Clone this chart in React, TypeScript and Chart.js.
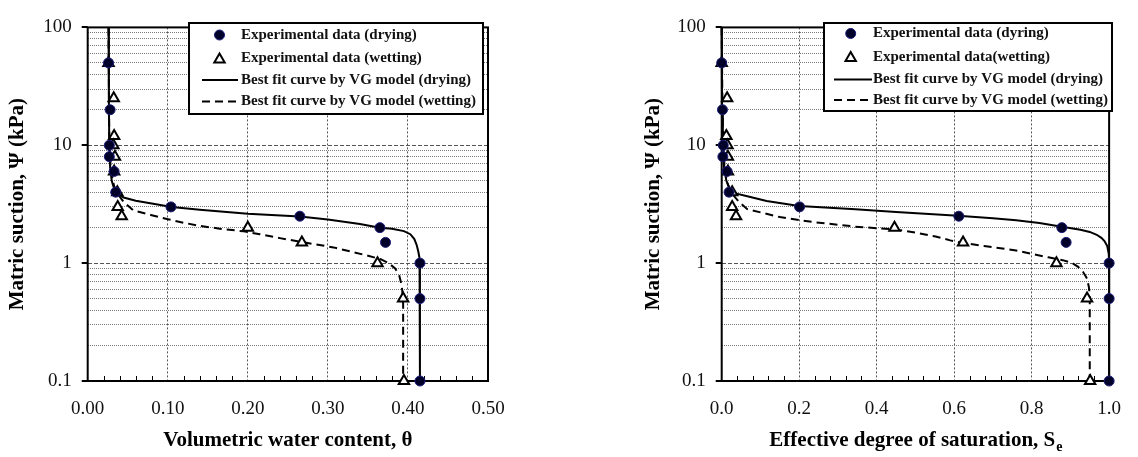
import React, { useEffect, useRef } from 'react';
import { Chart, registerables } from 'chart.js';
Chart.register(...registerables);

const FONT = "'Liberation Serif', 'Times New Roman', serif";

// ---------- Shared axis ticks ----------
const Y_TICKS = [0.1, 0.2, 0.3, 0.4, 0.5, 0.6, 0.7, 0.8, 0.9, 1, 2, 3, 4, 5, 6, 7, 8, 9, 10, 20, 30, 40, 50, 60, 70, 80, 90, 100];
const Y_LABELED = [0.1, 1, 10, 100];
const Y_MAJOR_GRID = [1, 10];

// ---------- Left chart: volumetric water content ----------
const thetaDry = [0.026, 0.028, 0.027, 0.027, 0.033, 0.035, 0.104, 0.265, 0.365, 0.372, 0.415, 0.415, 0.415];
const psiDry = [50, 20, 10, 8, 6, 4, 3, 2.5, 2, 1.5, 1, 0.5, 0.1];
const thetaWet = [0.026, 0.0325, 0.033, 0.032, 0.034, 0.033, 0.037, 0.0375, 0.0425, 0.2, 0.2675, 0.362, 0.394, 0.395];
const psiWet = [50, 25, 12, 10, 8, 6, 4, 3, 2.5, 2, 1.5, 1, 0.5, 0.1];
const thetaDryCurve = [0.026, 0.0265, 0.027, 0.028, 0.030, 0.033, 0.036, 0.045, 0.060, 0.080, 0.105, 0.140, 0.200, 0.265, 0.300, 0.340, 0.365, 0.380, 0.395, 0.403, 0.408, 0.411, 0.413, 0.4145, 0.415, 0.415];
const psiDryCurve = [100, 20, 10, 6.5, 5.0, 4.3, 4.0, 3.6, 3.38, 3.2, 3.0, 2.84, 2.63, 2.49, 2.34, 2.15, 2.0, 1.96, 1.87, 1.76, 1.6, 1.42, 1.25, 1.1, 1.0, 0.1];
const thetaWetCurve = [0.026, 0.027, 0.029, 0.033, 0.037, 0.045, 0.057, 0.080, 0.100, 0.120, 0.140, 0.165, 0.195, 0.215, 0.240, 0.265, 0.307, 0.349, 0.366, 0.376, 0.384, 0.389, 0.3915, 0.393, 0.394, 0.394];
const psiWetCurve = [100, 10, 6, 4.5, 3.9, 3.3, 2.8, 2.55, 2.36, 2.2, 2.07, 1.96, 1.86, 1.76, 1.63, 1.52, 1.36, 1.16, 1.08, 1.0, 0.9, 0.79, 0.68, 0.58, 0.45, 0.1];
const thetaMinorTicks = [0.02, 0.04, 0.06, 0.08, 0.12, 0.14, 0.16, 0.18, 0.22, 0.24, 0.26, 0.28, 0.32, 0.34, 0.36, 0.38, 0.42, 0.44, 0.46, 0.48];
const leftLegend = ['Experimental data (drying)', 'Experimental data (wetting)', 'Best fit curve by VG model (drying)', 'Best fit curve by VG model (wetting)'];

// ---------- Right chart: effective degree of saturation ----------
const seDry = [0.0, 0.002, 0.004, 0.003, 0.014, 0.019, 0.201, 0.612, 0.878, 0.889, 1.0, 1.0, 1.0];
const seWet = [0.0, 0.014, 0.012, 0.015, 0.016, 0.016, 0.027, 0.027, 0.037, 0.446, 0.623, 0.864, 0.943, 0.951];
const seDryCurve = [0.0, 0.001, 0.003, 0.006, 0.012, 0.022, 0.033, 0.066, 0.116, 0.200, 0.345, 0.450, 0.610, 0.700, 0.760, 0.820, 0.878, 0.926, 0.950, 0.968, 0.980, 0.988, 0.995, 0.999, 1.0, 1.0];
const psiDryCurve2 = [100, 20, 10, 6.5, 5.0, 4.2, 3.92, 3.69, 3.36, 3.06, 2.87, 2.72, 2.52, 2.4, 2.31, 2.19, 2.04, 1.92, 1.84, 1.74, 1.64, 1.54, 1.4, 1.2, 1.0, 0.1];
const seWetCurve = [0.0, 0.002, 0.004, 0.008, 0.016, 0.029, 0.045, 0.066, 0.150, 0.232, 0.345, 0.446, 0.500, 0.552, 0.590, 0.623, 0.677, 0.760, 0.843, 0.880, 0.905, 0.920, 0.933, 0.943, 0.948, 0.950, 0.950];
const psiWetCurve2 = [100, 20, 10, 6, 4.6, 3.8, 3.3, 2.87, 2.46, 2.24, 2.04, 1.93, 1.82, 1.68, 1.56, 1.48, 1.40, 1.28, 1.12, 1.06, 1.0, 0.93, 0.84, 0.74, 0.62, 0.5, 0.1];
const seMinorTicks = [0.04, 0.08, 0.12, 0.16, 0.24, 0.28, 0.32, 0.36, 0.44, 0.48, 0.52, 0.56, 0.64, 0.68, 0.72, 0.76, 0.84, 0.88, 0.92, 0.96];
const rightLegend = ['Experimental data (dyring)', 'Experimental data(wetting)', 'Best fit curve by VG model (drying)', 'Best fit curve by VG model (wetting)'];

const zip = (xs: number[], ys: number[]) => xs.map((x, i) => ({ x, y: ys[i] }));

const TITLE_SIZE = 21;
const TICK_SIZE = 19;

type Params = {
  xs: number[][]; ys: number[][];
  xMax: number; xStep: number; xDec: number;
  minor: number[];
  yWidth: number; yTitlePad: number; padRight: number;
  xTitle: string | null; xTitleSub: [string, string] | null;
  legendTexts: string[];
  legend: { x1: number; y1: number; x2: number; y2: number; rows: number[]; mx: number; l1: number; l2: number; tx: number };
};

function drawTri(ctx: CanvasRenderingContext2D, cx: number, cy: number, r: number) {
  ctx.beginPath();
  ctx.moveTo(cx, cy - r);
  ctx.lineTo(cx + r * 0.866, cy + r * 0.5);
  ctx.lineTo(cx - r * 0.866, cy + r * 0.5);
  ctx.closePath();
  ctx.fillStyle = '#fff';
  ctx.fill();
  ctx.lineWidth = 2;
  ctx.strokeStyle = '#000';
  ctx.stroke();
}

function makeDecor(p: Params) {
  return {
    id: 'decor',
    beforeDatasetsDraw(chart: any) {
      const { ctx, chartArea: ca, scales } = chart;
      ctx.save();
      ctx.strokeStyle = '#000';
      ctx.lineWidth = 1;
      for (const v of p.minor) {
        const px = Math.round(scales.x.getPixelForValue(v)) + 0.5;
        ctx.beginPath();
        ctx.moveTo(px, ca.bottom);
        ctx.lineTo(px, ca.bottom - 5);
        ctx.stroke();
      }
      ctx.lineWidth = 2;
      for (const v of Y_LABELED) {
        const py = Math.round(scales.y.getPixelForValue(v));
        ctx.beginPath();
        ctx.moveTo(ca.left - 6, py);
        ctx.lineTo(ca.left, py);
        ctx.stroke();
      }
      ctx.strokeRect(ca.left, ca.top, ca.right - ca.left, ca.bottom - ca.top);
      ctx.restore();
    },
    afterDraw(chart: any) {
      const { ctx, chartArea: ca } = chart;
      const L = p.legend;
      ctx.save();
      ctx.fillStyle = '#fff';
      ctx.fillRect(L.x1, L.y1, L.x2 - L.x1, L.y2 - L.y1);
      ctx.lineWidth = 2;
      ctx.strokeStyle = '#000';
      ctx.strokeRect(L.x1, L.y1, L.x2 - L.x1, L.y2 - L.y1);
      ctx.font = `bold 15px ${FONT}`;
      ctx.textBaseline = 'middle';
      ctx.textAlign = 'left';
      p.legendTexts.forEach((t, i) => {
        const y = L.rows[i];
        if (i === 0) {
          ctx.beginPath();
          ctx.arc(L.mx, y, 5, 0, Math.PI * 2);
          ctx.fillStyle = '#000028';
          ctx.fill();
          ctx.lineWidth = 1;
          ctx.strokeStyle = '#1c1c7a';
          ctx.stroke();
        } else if (i === 1) {
          drawTri(ctx, L.mx, y + 1, 6);
        } else {
          ctx.beginPath();
          ctx.setLineDash(i === 3 ? [8, 5] : []);
          ctx.lineWidth = 2;
          ctx.strokeStyle = '#000';
          ctx.moveTo(L.l1, y);
          ctx.lineTo(L.l2, y);
          ctx.stroke();
          ctx.setLineDash([]);
        }
        ctx.fillStyle = '#111';
        ctx.fillText(t, L.tx, y);
      });
      if (p.xTitleSub) {
        const [main, sub] = p.xTitleSub;
        ctx.font = `bold ${TITLE_SIZE}px ${FONT}`;
        const w1 = ctx.measureText(main).width;
        ctx.font = `bold 14px ${FONT}`;
        const w2 = ctx.measureText(sub).width;
        const cx = (ca.left + ca.right) / 2;
        const x0 = cx - (w1 + w2) / 2;
        ctx.fillStyle = '#000';
        ctx.font = `bold ${TITLE_SIZE}px ${FONT}`;
        ctx.fillText(main, x0, 441);
        ctx.font = `bold 14px ${FONT}`;
        ctx.fillText(sub, x0 + w1 + 1, 447);
      }
      ctx.restore();
    },
  };
}

function buildChart(canvas: HTMLCanvasElement, p: Params) {
  const tickFont = { family: FONT, size: TICK_SIZE };
  const half = (TITLE_SIZE * 1.2) / 2;
  return new Chart(canvas, {
    type: 'scatter',
    data: {
      datasets: [
        { label: p.legendTexts[0], data: zip(p.xs[0], p.ys[0]), pointStyle: 'circle', pointRadius: 5, pointBackgroundColor: '#000028', pointBorderColor: '#1c1c7a', pointBorderWidth: 1, showLine: false, clip: false } as any,
        { label: p.legendTexts[1], data: zip(p.xs[1], p.ys[1]), pointStyle: 'triangle', pointRadius: 6, pointBackgroundColor: '#fff', pointBorderColor: '#000', pointBorderWidth: 2, showLine: false, clip: false },
        { label: p.legendTexts[2], data: zip(p.xs[2], p.ys[2]), showLine: true, pointRadius: 0, borderColor: '#000', borderWidth: 2, tension: 0, clip: false },
        { label: p.legendTexts[3], data: zip(p.xs[3], p.ys[3]), showLine: true, pointRadius: 0, borderColor: '#000', borderWidth: 2, borderDash: [8, 5], tension: 0, clip: false },
      ],
    },
    options: {
      responsive: false,
      animation: false,
      events: [],
      layout: { padding: { left: 0, top: 12, right: p.padRight, bottom: 0 } },
      plugins: { legend: { display: false }, tooltip: { enabled: false } },
      scales: {
        x: {
          type: 'linear',
          min: 0,
          max: p.xMax,
          afterFit: (s: any) => { s.height = 76; },
          ticks: {
            stepSize: p.xStep,
            callback: (v: any) => Number(v).toFixed(p.xDec),
            font: tickFont,
            color: '#111',
            padding: 17,
            maxRotation: 0,
            autoSkip: false,
          },
          grid: {
            drawTicks: false,
            lineWidth: 1,
            color: (c: any) => {
              const v = c.tick ? c.tick.value : null;
              if (v === null || Math.abs(v) < 1e-9 || Math.abs(v - p.xMax) < 1e-9) return 'rgba(0,0,0,0)';
              return '#555';
            },
          },
          border: { display: false, dash: [2, 2] },
          title: p.xTitle
            ? { display: true, text: p.xTitle, font: { family: FONT, size: TITLE_SIZE, weight: 'bold' }, color: '#000', padding: { top: 0, bottom: 16 - half } }
            : { display: false },
        },
        y: {
          type: 'logarithmic',
          min: 0.1,
          max: 100,
          afterBuildTicks: (s: any) => { s.ticks = Y_TICKS.map((v) => ({ value: v })); },
          afterFit: (s: any) => { s.width = p.yWidth; },
          ticks: {
            callback: (v: any) => (Y_LABELED.includes(v) ? String(v) : ''),
            font: tickFont,
            color: '#111',
            padding: 16,
            autoSkip: false,
          },
          grid: {
            drawTicks: false,
            lineWidth: 1,
            color: (c: any) => {
              const v = c.tick ? c.tick.value : null;
              if (v === null || v === 0.1 || v === 100) return 'rgba(0,0,0,0)';
              return Y_MAJOR_GRID.includes(v) ? '#555' : '#7a7a7a';
            },
          },
          border: {
            display: false,
            dash: (c: any) => {
              const v = c.tick ? c.tick.value : null;
              return v !== null && Y_MAJOR_GRID.includes(v) ? [4, 2] : [1, 1];
            },
          },
          title: {
            display: true,
            text: 'Matric suction, Ψ (kPa)',
            font: { family: FONT, size: TITLE_SIZE, weight: 'bold' },
            color: '#000',
            padding: { top: p.yTitlePad - half, bottom: 0 },
          },
        },
      },
    } as any,
    plugins: [makeDecor(p)],
  });
}

const leftParams: Params = {
  xs: [thetaDry, thetaWet, thetaDryCurve, thetaWetCurve],
  ys: [psiDry, psiWet, psiDryCurve, psiWetCurve],
  xMax: 0.5, xStep: 0.1, xDec: 2,
  minor: thetaMinorTicks,
  yWidth: 87.7, yTitlePad: 18, padRight: 81,
  xTitle: 'Volumetric water content, θ', xTitleSub: null,
  legendTexts: leftLegend,
  legend: { x1: 189, y1: 23, x2: 483, y2: 114, rows: [35, 58.5, 80, 101.5], mx: 219.5, l1: 202, l2: 238, tx: 241 },
};

const rightParams: Params = {
  xs: [seDry, seWet, seDryCurve, seWetCurve],
  ys: [psiDry, psiWet, psiDryCurve2, psiWetCurve2],
  xMax: 1.0, xStep: 0.2, xDec: 1,
  minor: seMinorTicks,
  yWidth: 152.7, yTitlePad: 85, padRight: 15,
  xTitle: null, xTitleSub: ['Effective degree of saturation, S', 'e'],
  legendTexts: rightLegend,
  legend: { x1: 255, y1: 23, x2: 543, y2: 111, rows: [33.5, 57, 79.5, 100], mx: 281.7, l1: 265, l2: 303, tx: 304 },
};

function ChartPanel({ params }: { params: Params }) {
  const ref = useRef<HTMLCanvasElement>(null);
  useEffect(() => {
    if (!ref.current) return;
    const c = buildChart(ref.current, params);
    return () => c.destroy();
  }, [params]);
  return <canvas ref={ref} width={569} height={457} style={{ display: 'block', width: 569, height: 457 }} />;
}

export default function App() {
  return (
    <div style={{ position: 'absolute', left: 0, top: 0, width: 1138, height: 457, display: 'flex', background: '#fff' }}>
      <ChartPanel params={leftParams} />
      <ChartPanel params={rightParams} />
    </div>
  );
}
